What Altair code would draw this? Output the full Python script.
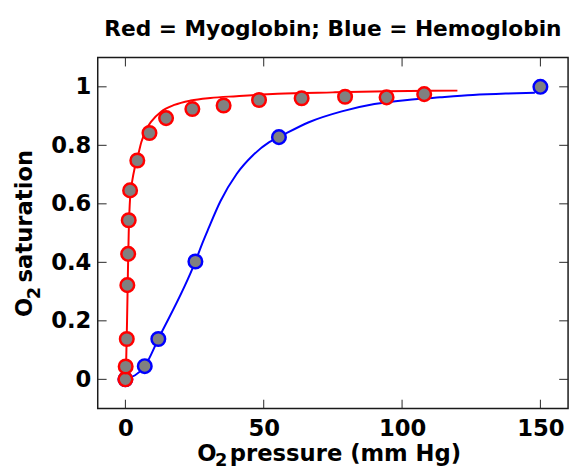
import altair as alt
import pandas as pd

# ---- data ----
myo_x = [0, 0.1, 0.5, 0.7, 1.0, 1.2, 1.7, 4.3, 8.7, 14.7, 24.2, 35.5, 48.3, 63.7, 79.4, 94.4, 108]
myo_y = [0, 0.044, 0.138, 0.322, 0.429, 0.544, 0.646, 0.748, 0.842, 0.893, 0.924, 0.936, 0.955, 0.961, 0.966, 0.964, 0.975]

myo_fit_x = [0, 0.3, 0.6, 0.9, 1.2, 1.7, 2.5, 3.3, 4.3, 5.8, 7.6, 9.4, 12.9, 17.7, 23.6, 30.7, 40.2, 55, 75, 95, 120]
myo_fit_y = [0, 0.07, 0.2, 0.36, 0.5, 0.62, 0.68, 0.72, 0.755, 0.812, 0.855, 0.882, 0.915, 0.938, 0.953, 0.962, 0.968, 0.976, 0.981, 0.985, 0.987]

hb_x = [0, 7.0, 11.9, 25.3, 55.5, 150]
hb_y = [0, 0.045, 0.138, 0.403, 0.828, 1.0]

hb_fit_x = [0, 7, 11.9, 25.3, 27.8, 30, 34.3, 40.2, 46.1, 52, 55.5, 66.3, 78.2, 90, 101.9, 113.7, 125.6, 137.5, 148]
hb_fit_y = [0, 0.045, 0.138, 0.403, 0.465, 0.515, 0.608, 0.702, 0.766, 0.811, 0.828, 0.879, 0.916, 0.941, 0.955, 0.964, 0.972, 0.977, 0.98]

x_ticks = [0, 50, 100, 150]
y_ticks = [0, 0.2, 0.4, 0.6, 0.8, 1]
X_DOMAIN = [-10, 160]
Y_DOMAIN = [-0.1, 1.1]

title_text = "Red = Myoglobin; Blue = Hemoglobin"

# ---- styling ----
W, H = 477, 356
FONT = "DejaVu Sans"
FS = 23
RED, BLUE, GRAY = "#ff0000", "#0000ff", "#808080"
TICK = 9

xs = alt.Scale(domain=X_DOMAIN, nice=False, zero=False)
ys = alt.Scale(domain=Y_DOMAIN, nice=False, zero=False)

x_axis = alt.Axis(values=x_ticks, ticks=False, tickSize=0, domain=False, grid=False,
                  labelFont=FONT, labelFontSize=FS, labelFontWeight="bold", labelColor="black",
                  labelPadding=9, title=None)
y_axis = alt.Axis(values=y_ticks, ticks=False, tickSize=0, domain=False, grid=False, format="~g",
                  labelFont=FONT, labelFontSize=FS, labelFontWeight="bold", labelColor="black",
                  labelPadding=7, title=None)


def X():
    return alt.X("x:Q", scale=xs, axis=x_axis)


def Y():
    return alt.Y("y:Q", scale=ys, axis=y_axis)


def fit_line(xv, yv, color):
    df = pd.DataFrame({"x": xv, "y": yv, "i": list(range(len(xv)))})
    return alt.Chart(df).mark_line(color=color, strokeWidth=2, interpolate="monotone").encode(
        x=X(), y=Y(), order="i:Q")


def dots(xv, yv, color):
    df = pd.DataFrame({"x": xv, "y": yv})
    return alt.Chart(df).mark_point(shape="circle", filled=True, fill=GRAY, fillOpacity=1,
                                     stroke=color, strokeWidth=2.5, size=190, opacity=1).encode(
        x=X(), y=Y())


xt_df = pd.DataFrame({"x": x_ticks})
yt_df = pd.DataFrame({"y": y_ticks})
tick_color = "#262626"
ticks_bottom = alt.Chart(xt_df).mark_rule(color=tick_color, strokeWidth=1).encode(
    x=X(), y=alt.value(H), y2=alt.value(H - TICK))
ticks_top = alt.Chart(xt_df).mark_rule(color=tick_color, strokeWidth=1).encode(
    x=X(), y=alt.value(0), y2=alt.value(TICK))
ticks_left = alt.Chart(yt_df).mark_rule(color=tick_color, strokeWidth=1).encode(
    y=Y(), x=alt.value(0), x2=alt.value(TICK))
ticks_right = alt.Chart(yt_df).mark_rule(color=tick_color, strokeWidth=1).encode(
    y=Y(), x=alt.value(W), x2=alt.value(W - TICK))


def label(txt, x, y, size=FS, angle=0, align="left"):
    df = pd.DataFrame({"t": [txt]})
    return alt.Chart(df).mark_text(font=FONT, fontSize=size, fontWeight="bold", color="black",
                                   align=align, baseline="alphabetic", angle=angle).encode(
        x=alt.value(x), y=alt.value(y), text="t:N")


texts = [
    label(title_text, W / 2, -22, size=22, align="center"),
    # x title: O_2 pressure (mm Hg)
    label("O", 101, 409),
    label("2", 119, 414, size=18),
    label("pressure (mm Hg)", 134, 409),
    # y title: O_2 saturation
    label("O", -67, 263, angle=270),
    label("2", -59, 245, size=18, angle=270),
    label("saturation", -67, 228, angle=270),
]

chart = alt.layer(
    ticks_bottom, ticks_top, ticks_left, ticks_right,
    fit_line(hb_fit_x, hb_fit_y, BLUE),
    fit_line(myo_fit_x, myo_fit_y, RED),
    dots(hb_x, hb_y, BLUE),
    dots(myo_x, myo_y, RED),
    *texts,
).properties(
    width=W, height=H,
    autosize=alt.AutoSizeParams(type="none"),
    padding={"left": 91, "top": 47, "right": 5, "bottom": 59},
    background="white",
).configure_view(stroke="#1a1a1a", strokeWidth=1.5)

chart.save("out.html", embed_options={"renderer": "svg", "actions": False})
